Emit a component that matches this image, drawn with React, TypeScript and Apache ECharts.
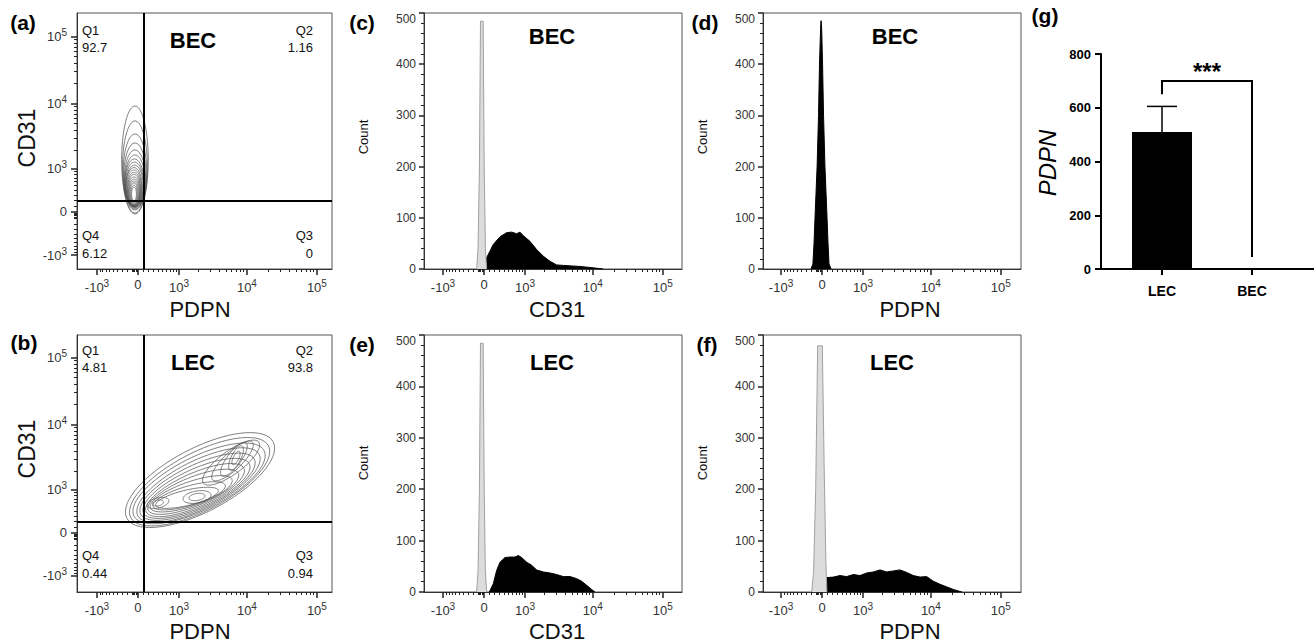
import { useEffect, useRef } from 'react';
import * as echarts from 'echarts';

// ---------------- scales (biexponential-like display, unit = one decade) ----------------
const X_COFACTOR = 557;
const Y_COFACTOR = 481;
const fx = (v: number) => Math.asinh(v / X_COFACTOR) / Math.LN10;
const fy = (v: number) => Math.asinh(v / Y_COFACTOR) / Math.LN10;

const flowTickValues = [-1000, 0, 1000, 10000, 100000];
const flowTickLabels = ['-10^3', '0', '10^3', '10^4', '10^5'];
const flowMinorTickValues = [
  -900, -800, -700, -600, -500, -400, -300, -200, -100, -80, -60, -40, -20,
  100, 200, 300, 400, 500, 600, 700, 800, 900,
  2000, 3000, 4000, 5000, 6000, 7000, 8000, 9000,
  20000, 30000, 40000, 50000, 60000, 70000, 80000, 90000,
];

// ---------------- gates & quadrant frequencies ----------------
const gatePDPN = 111;
const gateCD31 = 186;
const quadNames = ['Q1', 'Q2', 'Q3', 'Q4'];
const becQuadrants = ['92.7', '1.16', '0', '6.12'];
const lecQuadrants = ['4.81', '93.8', '0.94', '0.44'];

// ---------------- contour levels: [centre x, centre y, semi-axis a, semi-axis b, angle deg] (display decades) ----------------
const becContours = [
  [-0.043, 0.776, 0.806, 0.19, 90],
  [-0.043, 0.672, 0.687, 0.178, 90],
  [-0.043, 0.597, 0.567, 0.168, 90],
  [-0.043, 0.537, 0.493, 0.16, 90],
  [-0.043, 0.493, 0.433, 0.152, 90],
  [-0.043, 0.463, 0.388, 0.145, 90],
  [-0.05, 0.433, 0.358, 0.138, 90],
  [-0.05, 0.41, 0.335, 0.131, 90],
  [-0.05, 0.39, 0.31, 0.124, 90],
  [-0.057, 0.373, 0.29, 0.118, 90],
  [-0.057, 0.358, 0.269, 0.11, 90],
  [-0.057, 0.34, 0.25, 0.102, 90],
  [-0.057, 0.328, 0.232, 0.094, 90],
  [-0.057, 0.313, 0.209, 0.086, 90],
  [-0.057, 0.3, 0.19, 0.078, 90],
  [-0.057, 0.29, 0.17, 0.068, 90],
  [-0.057, 0.284, 0.149, 0.057, 90],
  [-0.057, 0.275, 0.125, 0.046, 90],
  [-0.057, 0.269, 0.1, 0.035, 90],
];
const lecContours = [
  [0.886, 0.79, 1.19, 0.47, 29],
  [0.88, 0.765, 1.12, 0.43, 29],
  [0.872, 0.74, 1.05, 0.392, 28],
  [0.864, 0.715, 0.98, 0.355, 28],
  [0.85, 0.69, 0.91, 0.32, 27],
  [0.835, 0.665, 0.84, 0.285, 26],
  [0.815, 0.64, 0.77, 0.25, 25],
  [0.79, 0.615, 0.7, 0.215, 23],
  [0.76, 0.585, 0.62, 0.18, 20],
  [0.73, 0.555, 0.54, 0.145, 17],
  [0.7, 0.525, 0.46, 0.115, 14],
  [0.843, 0.537, 0.203, 0.09, 10],
  [0.843, 0.537, 0.116, 0.052, 10],
  [0.286, 0.448, 0.16, 0.075, 15],
  [0.286, 0.448, 0.08, 0.043, 15],
  [1.33, 1.05, 0.5, 0.17, 38],
  [1.35, 1.075, 0.4, 0.13, 45],
  [1.37, 1.1, 0.3, 0.1, 55],
  [1.4, 1.119, 0.2, 0.07, 65],
  [1.4, 1.119, 0.11, 0.04, 65],
];

// ---------------- histograms: [display decades, count] ----------------
const isotypeCD31 = [[-0.105, 0], [-0.085, 40], [-0.065, 200], [-0.05, 484], [-0.012, 484], [0.003, 200], [0.02, 40], [0.038, 0]];
const becCD31 = [[-0.086, 0], [0.038, 22], [0.133, 48], [0.229, 63], [0.324, 71], [0.395, 72], [0.467, 69], [0.514, 72], [0.562, 65], [0.657, 54], [0.752, 38], [0.848, 25], [0.943, 15], [1.038, 8], [1.133, 7], [1.371, 5], [1.514, 3], [1.705, 0]];
const becPDPN = [[-0.157, 0], [-0.13, 10], [-0.114, 50], [-0.1, 100], [-0.085, 150], [-0.07, 200], [-0.05, 300], [-0.036, 400], [-0.02, 470], [-0.014, 485], [-0.005, 470], [0.008, 400], [0.022, 300], [0.042, 200], [0.057, 150], [0.072, 100], [0.086, 50], [0.1, 10], [0.129, 0]];
const lecCD31 = [[0.076, 0], [0.133, 16], [0.181, 42], [0.229, 58], [0.3, 67], [0.371, 68], [0.443, 68], [0.49, 71], [0.538, 67], [0.61, 58], [0.681, 52], [0.752, 43], [0.848, 39], [0.943, 37], [1.038, 34], [1.133, 30], [1.229, 30], [1.324, 26], [1.395, 21], [1.467, 13], [1.538, 5], [1.586, 0]];
const isotypePDPN = [[-0.147, 0], [-0.12, 40], [-0.09, 200], [-0.062, 479], [0.005, 479], [0.03, 250], [0.055, 60], [0.07, 0]];
const lecPDPN = [[-0.09, 0], [-0.076, 2], [-0.029, 13], [0.019, 23], [0.067, 28], [0.162, 29], [0.257, 32], [0.352, 30], [0.448, 34], [0.543, 32], [0.638, 37], [0.733, 39], [0.829, 43], [0.924, 39], [1.019, 41], [1.114, 43], [1.21, 38], [1.305, 32], [1.4, 29], [1.495, 30], [1.59, 21], [1.686, 15], [1.781, 10], [1.876, 5], [1.971, 1], [2.0, 0]];

// ---------------- bar chart (g) ----------------
const groups = ['LEC', 'BEC'];
const pdpnMean = [510, 0];
const pdpnSD = [95, 0];
const sigBracketY = 700;
const sigLegBottoms = [650, 45];
const sigLabel = '***';

// ---------------- texts ----------------
const panelLetters = ['(a)', '(b)', '(c)', '(d)', '(e)', '(f)', '(g)'];
const panelTitles = ['BEC', 'LEC', 'BEC', 'BEC', 'LEC', 'LEC'];
const panelXTitles = ['PDPN', 'PDPN', 'CD31', 'PDPN', 'CD31', 'PDPN'];

const FONT = '"Liberation Sans", Arial, Helvetica, sans-serif';

const toRich = (s: string) => {
  if (s.includes('^')) {
    const [b, e] = s.split('^');
    return `{b|${b}}{s|${e}}`;
  }
  return `{b|${s}}`;
};
const nearestIdx = (arr: number[], v: number) =>
  arr.reduce((bi, a, i) => (Math.abs(a - v) < Math.abs(arr[bi] - v) ? i : bi), 0);

const tickRich = {
  b: { fontSize: 13, color: '#333', fontFamily: FONT },
  s: { fontSize: 10, color: '#333', fontFamily: FONT, padding: [0, 0, 8, 0] },
};

function flowAxes(gridIndex: number, min: number, max: number, dim: 'x' | 'y', f: (v: number) => number) {
  const majors = flowTickValues.map(f);
  const minors = flowMinorTickValues.map(f);
  const position = dim === 'x' ? 'bottom' : 'left';
  return [
    {
      type: 'value', gridIndex, min, max, position,
      axisLine: { show: true, onZero: false, lineStyle: { color: '#333', width: 1 } },
      axisTick: { show: true, customValues: majors, length: 6, inside: false, lineStyle: { color: '#222', width: 1.5 } },
      axisLabel: {
        show: true, customValues: majors, margin: dim === 'x' ? 9 : 10,
        formatter: (v: number) => toRich(flowTickLabels[nearestIdx(majors, v)]),
        rich: tickRich,
      },
      splitLine: { show: false },
    },
    {
      type: 'value', gridIndex, min, max, position,
      axisLine: { show: false, onZero: false },
      axisTick: { show: true, customValues: minors, length: 3, lineStyle: { color: '#222', width: 1 } },
      axisLabel: { show: false },
      splitLine: { show: false },
    },
  ];
}

function histYAxis(gridIndex: number) {
  return {
    type: 'value', gridIndex, min: 0, max: 500, interval: 100, position: 'left',
    axisLine: { show: true, onZero: false, lineStyle: { color: '#333', width: 1 } },
    axisTick: { show: true, length: 5, lineStyle: { color: '#222', width: 1.5 } },
    minorTick: { show: true, splitNumber: 5, length: 3, lineStyle: { color: '#222', width: 1 } },
    axisLabel: { fontSize: 12, color: '#333', margin: 8, fontFamily: FONT, verticalAlignMaxLabel: 'top' },
    splitLine: { show: false },
    minorSplitLine: { show: false },
  };
}

const renderContour = (params: any, api: any) => {
  const cx = api.value(0), cy = api.value(1), a = api.value(2), b = api.value(3);
  const ang = (api.value(4) * Math.PI) / 180;
  const pts: number[][] = [];
  for (let i = 0; i < 72; i++) {
    const t = (i / 72) * 2 * Math.PI;
    const dx = a * Math.cos(t), dy = b * Math.sin(t);
    pts.push(api.coord([cx + dx * Math.cos(ang) - dy * Math.sin(ang), cy + dx * Math.sin(ang) + dy * Math.cos(ang)]));
  }
  return { type: 'polygon', shape: { points: pts }, style: { fill: 'none', stroke: '#555', lineWidth: 0.75 } };
};

const renderGate = (params: any, api: any) => {
  const cs = params.coordSys;
  const p = api.coord([api.value(0), api.value(1)]);
  return {
    type: 'group',
    children: [
      { type: 'line', shape: { x1: p[0], y1: cs.y, x2: p[0], y2: cs.y + cs.height }, style: { stroke: '#000', lineWidth: 2 } },
      { type: 'line', shape: { x1: cs.x, y1: p[1], x2: cs.x + cs.width, y2: p[1] }, style: { stroke: '#000', lineWidth: 2 } },
    ],
  };
};

function histSeries(data: number[][], xi: number, yi: number, kind: 'sample' | 'control') {
  return {
    type: 'line', xAxisIndex: xi, yAxisIndex: yi, data, symbol: 'none', showSymbol: false, smooth: false,
    lineStyle: { color: kind === 'sample' ? '#000' : '#a0a0a0', width: 1 },
    areaStyle: { color: kind === 'sample' ? '#000' : '#dcdcdc', opacity: 1 },
    z: kind === 'sample' ? 2 : 3,
    silent: true,
  };
}

export default function App() {
  const ref = useRef<HTMLDivElement>(null);
  useEffect(() => {
    if (!ref.current) return;
    const chart = echarts.init(ref.current, undefined, { renderer: 'svg' });

    const grids = [
      { left: 77, top: 13, width: 255, height: 256 },
      { left: 77, top: 335, width: 255, height: 257 },
      { left: 424, top: 13, width: 258, height: 256 },
      { left: 763, top: 13, width: 258, height: 256 },
      { left: 424, top: 335, width: 258, height: 257 },
      { left: 763, top: 335, width: 258, height: 257 },
      { left: 1101, top: 54, width: 213, height: 215 },
    ].map((g, i) => ({
      ...g,
      show: i < 6,
      borderColor: '#555',
      borderWidth: 1,
      backgroundColor: 'transparent',
      containLabel: false,
      outerBoundsMode: 'none',
    }));

    const xAxis: any[] = [
      ...flowAxes(0, -0.871, 2.771, 'x', fx), // 0,1
      ...flowAxes(1, -0.871, 2.771, 'x', fx), // 2,3
      ...flowAxes(2, -0.857, 2.829, 'x', fx), // 4,5
      ...flowAxes(3, -0.843, 2.843, 'x', fx), // 6,7
      ...flowAxes(4, -0.857, 2.829, 'x', fx), // 8,9
      ...flowAxes(5, -0.843, 2.843, 'x', fx), // 10,11
      {
        type: 'value', gridIndex: 6, min: -0.678, max: 1.689, position: 'bottom',
        axisLine: { show: true, onZero: false, lineStyle: { color: '#000', width: 2 } },
        axisTick: { show: true, customValues: [0, 1], length: 6, lineStyle: { color: '#000', width: 2 } },
        axisLabel: {
          show: true, customValues: [0, 1], margin: 15, fontSize: 14, fontWeight: 'bold', color: '#000', fontFamily: FONT,
          formatter: (v: number) => groups[Math.round(v)] ?? '',
        },
        splitLine: { show: false },
      }, // 12
    ];
    const yAxis: any[] = [
      ...flowAxes(0, -0.851, 2.97, 'y', fy), // 0,1
      ...flowAxes(1, -0.881, 2.955, 'y', fy), // 2,3
      histYAxis(2), // 4
      histYAxis(3), // 5
      histYAxis(4), // 6
      histYAxis(5), // 7
      {
        type: 'value', gridIndex: 6, min: 0, max: 800, interval: 200, position: 'left',
        axisLine: { show: true, onZero: false, lineStyle: { color: '#000', width: 2 } },
        axisTick: { show: true, length: 6, lineStyle: { color: '#000', width: 2 } },
        axisLabel: { fontSize: 13, fontWeight: 'bold', color: '#000', margin: 10, fontFamily: FONT },
        splitLine: { show: false },
      }, // 8
    ];

    const series: any[] = [
      { type: 'custom', xAxisIndex: 0, yAxisIndex: 0, data: becContours, renderItem: renderContour, silent: true, z: 2 },
      { type: 'custom', xAxisIndex: 2, yAxisIndex: 2, data: lecContours, renderItem: renderContour, silent: true, z: 2 },
      { type: 'custom', xAxisIndex: 0, yAxisIndex: 0, data: [[fx(gatePDPN), fy(gateCD31)]], renderItem: renderGate, silent: true, z: 5 },
      { type: 'custom', xAxisIndex: 2, yAxisIndex: 2, data: [[fx(gatePDPN), fy(gateCD31)]], renderItem: renderGate, silent: true, z: 5 },
      histSeries(becCD31, 4, 4, 'sample'),
      histSeries(isotypeCD31, 4, 4, 'control'),
      histSeries(becPDPN, 6, 5, 'sample'),
      histSeries(lecCD31, 8, 6, 'sample'),
      histSeries(isotypeCD31, 8, 6, 'control'),
      histSeries(lecPDPN, 10, 7, 'sample'),
      histSeries(isotypePDPN, 10, 7, 'control'),
      {
        type: 'bar', xAxisIndex: 12, yAxisIndex: 8, barWidth: 60,
        data: groups.map((_, i) => [i, pdpnMean[i]]),
        itemStyle: { color: '#000' }, silent: true, z: 2,
      },
      {
        type: 'custom', xAxisIndex: 12, yAxisIndex: 8, silent: true, z: 3,
        data: groups.map((_, i) => [i, pdpnMean[i], pdpnSD[i]]),
        renderItem: (params: any, api: any) => {
          const x = api.value(0), m = api.value(1), sd = api.value(2);
          if (!sd) return { type: 'group', children: [] };
          const base = api.coord([x, m]);
          const top = api.coord([x, m + sd]);
          return {
            type: 'group',
            children: [
              { type: 'line', shape: { x1: base[0], y1: base[1], x2: top[0], y2: top[1] }, style: { stroke: '#000', lineWidth: 1.5 } },
              { type: 'line', shape: { x1: top[0] - 15, y1: top[1], x2: top[0] + 15, y2: top[1] }, style: { stroke: '#000', lineWidth: 1.5 } },
            ],
          };
        },
      },
      {
        type: 'custom', xAxisIndex: 12, yAxisIndex: 8, silent: true, z: 3,
        data: [[0, 1, sigBracketY, sigLegBottoms[0], sigLegBottoms[1]]],
        renderItem: (params: any, api: any) => {
          const a = api.value(0), b = api.value(1), y = api.value(2);
          const p0 = api.coord([a, api.value(3)]);
          const p1 = api.coord([a, y]);
          const p2 = api.coord([b, y]);
          const p3 = api.coord([b, api.value(4)]);
          return {
            type: 'group',
            children: [
              { type: 'polyline', shape: { points: [p0, p1, p2, p3] }, style: { stroke: '#000', lineWidth: 2, fill: 'none' } },
              {
                type: 'text', x: (p1[0] + p2[0]) / 2, y: p1[1] - 9,
                style: { text: sigLabel, fontSize: 24, fontWeight: 'bold', fontFamily: FONT, fill: '#000', align: 'center', verticalAlign: 'middle' },
              },
            ],
          };
        },
      },
    ];

    const txt = (text: string, x: number, y: number, o: any = {}) => ({
      type: 'text', x, y, rotation: o.rotation ?? 0, silent: true,
      style: {
        text, fontSize: o.fontSize ?? 13, fontWeight: o.fontWeight ?? 'normal', fontStyle: o.fontStyle ?? 'normal',
        fontFamily: FONT, fill: o.fill ?? '#111', align: o.align ?? 'center', verticalAlign: 'middle',
        textAlign: o.align ?? 'center', textVerticalAlign: 'middle',
      },
    });

    const letterPos = [[23, 22], [24, 342], [362, 22], [705, 22], [362, 344], [707, 344], [1045, 15]];
    const titlePos = [[193, 40], [193, 362], [552, 36], [895, 36], [552, 362], [892, 362]];
    const xTitlePos = [[200, 309], [200, 631], [557, 309], [910, 309], [557, 631], [910, 631]];
    const countPos = [[363, 137], [702, 137], [363, 463], [702, 463]];

    const graphic: any[] = [];
    panelLetters.forEach((t, i) => graphic.push(txt(t, letterPos[i][0], letterPos[i][1], { fontSize: 21, fontWeight: 'bold', fill: '#000' })));
    panelTitles.forEach((t, i) => graphic.push(txt(t, titlePos[i][0], titlePos[i][1], { fontSize: 22, fontWeight: 'bold', fill: '#000' })));
    panelXTitles.forEach((t, i) => graphic.push(txt(t, xTitlePos[i][0], xTitlePos[i][1], { fontSize: 22, fill: '#111' })));
    graphic.push(txt('CD31', 27, 138, { fontSize: 23, rotation: Math.PI / 2 }));
    graphic.push(txt('CD31', 27, 449, { fontSize: 23, rotation: Math.PI / 2 }));
    countPos.forEach((p) => graphic.push(txt('Count', p[0], p[1], { fontSize: 13, rotation: Math.PI / 2 })));
    graphic.push(txt('PDPN', 1047, 163, { fontSize: 24, fontStyle: 'italic', rotation: Math.PI / 2, fill: '#000' }));

    // quadrant labels
    [becQuadrants, lecQuadrants].forEach((q, k) => {
      const dy = k * 320;
      // Q1 top-left, Q2 top-right, Q3 bottom-right, Q4 bottom-left
      graphic.push(txt(quadNames[0], 82, 30 + dy, { align: 'left' }));
      graphic.push(txt(q[0], 82, 47 + dy, { align: 'left' }));
      graphic.push(txt(quadNames[1], 313, 30 + dy, { align: 'right' }));
      graphic.push(txt(q[1], 313, 47 + dy, { align: 'right' }));
      graphic.push(txt(quadNames[2], 313, 235 + dy, { align: 'right' }));
      graphic.push(txt(q[2], 313, 253 + dy, { align: 'right' }));
      graphic.push(txt(quadNames[3], 82, 235 + dy, { align: 'left' }));
      graphic.push(txt(q[3], 82, 253 + dy, { align: 'left' }));
    });

    chart.setOption({
      animation: false,
      backgroundColor: '#fff',
      textStyle: { fontFamily: FONT },
      grid: grids,
      xAxis,
      yAxis,
      series,
      graphic,
    });
    return () => chart.dispose();
  }, []);
  return <div ref={ref} style={{ position: 'absolute', left: 0, top: 0, width: 1314, height: 643 }} />;
}
